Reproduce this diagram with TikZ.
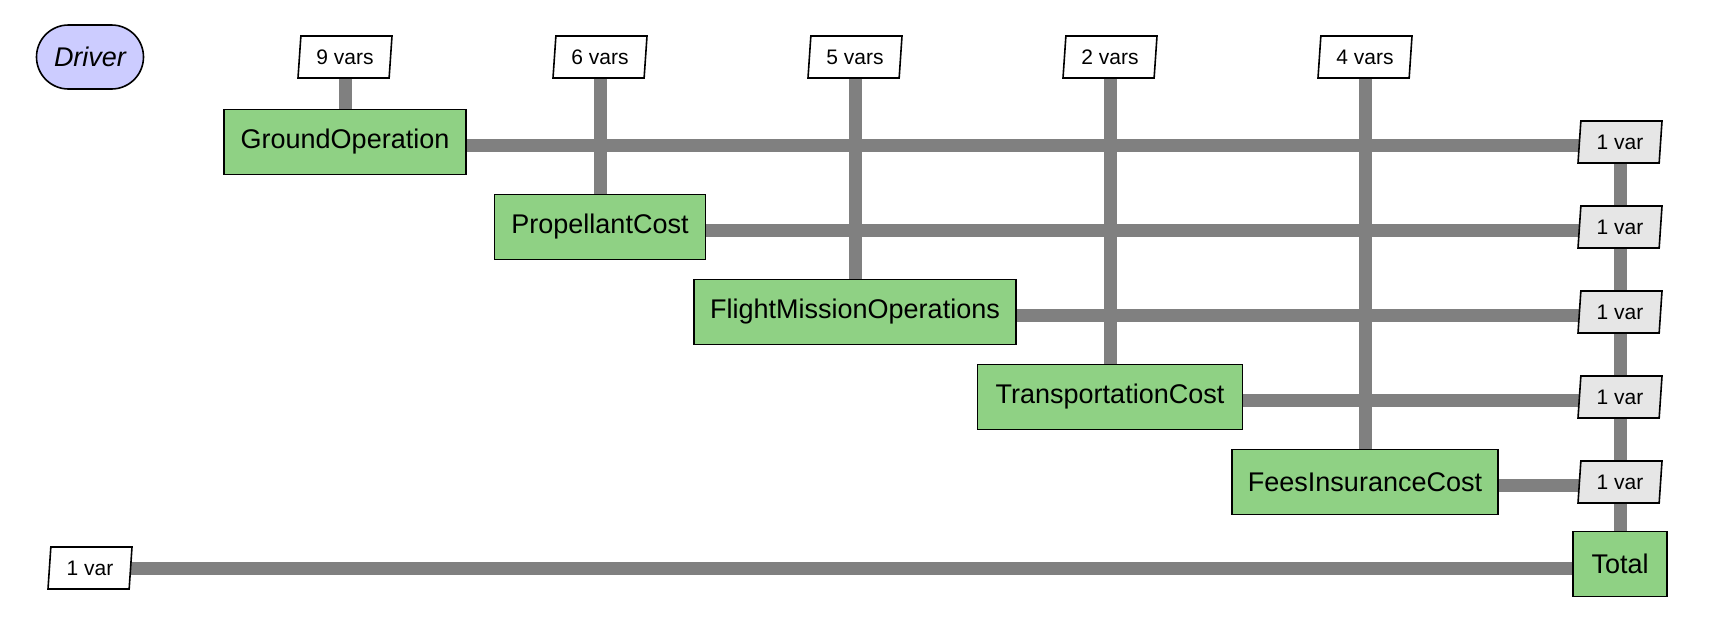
\documentclass[tikz,border=0pt]{standalone}
\usepackage{fontspec}
\setmainfont{Liberation Sans}
\usetikzlibrary{shapes.geometric,shapes.misc,backgrounds}
\definecolor{compgreen}{RGB}{143,209,132}
\definecolor{drvblue}{RGB}{204,204,255}
\definecolor{linegray}{RGB}{128,128,128}
\definecolor{outgray}{RGB}{230,230,230}
\begin{document}
\begin{tikzpicture}[x=1pt,y=-1pt,
  comp/.style={draw, line width=1.6pt, fill=compgreen, minimum height=65pt, inner sep=0pt, font=\fontsize{27}{32}\selectfont},
  driverbox/.style={rounded rectangle, draw, line width=1.6pt, fill=drvblue, minimum width=107pt, minimum height=64pt, inner sep=0pt, font=\fontsize{27}{32}\selectfont\itshape},
  datab/.style={trapezium, trapezium left angle=79, trapezium right angle=101, trapezium stretches body, draw, line width=1.6pt, fill=white, minimum width=94pt, minimum height=42pt, inner sep=0pt, font=\fontsize{21}{25}\selectfont},
  outd/.style={datab, fill=outgray, minimum width=84pt},
  flow/.style={draw=linegray, line width=13pt}]
\useasboundingbox (0,0) rectangle (1732,624);
% nodes
\node[driverbox] (drv) at (90,57) {Driver};
\node[datab] (i1) at (345,57) {9 vars};
\node[datab] (i2) at (600,57) {6 vars};
\node[datab] (i3) at (855,57) {5 vars};
\node[datab] (i4) at (1110,57) {2 vars};
\node[datab] (i5) at (1365,57) {4 vars};
\node[comp, minimum width=242pt] (c1) at (345,142) {GroundOperation};
\node[comp, minimum width=211pt] (c2) at (600,227) {PropellantCost};
\node[comp, minimum width=322pt] (c3) at (855,312) {FlightMissionOperations};
\node[comp, minimum width=265pt] (c4) at (1110,397) {TransportationCost};
\node[comp, minimum width=266pt] (c5) at (1365,482) {FeesInsuranceCost};
\node[comp, minimum width=94pt] (tot) at (1620,564) {Total};
\node[outd] (o1) at (1620,142) {1 var};
\node[outd] (o2) at (1620,227) {1 var};
\node[outd] (o3) at (1620,312) {1 var};
\node[outd] (o4) at (1620,397) {1 var};
\node[outd] (o5) at (1620,482) {1 var};
\node[datab, minimum width=84pt] (io) at (90,568) {1 var};
% connectors
\begin{scope}[on background layer]
\draw[flow] (i1.center) -- (c1.center);
\draw[flow] (i2.center) -- (c2.center);
\draw[flow] (i3.center) -- (c3.center);
\draw[flow] (i4.center) -- (c4.center);
\draw[flow] (i5.center) -- (c5.center);
\draw[flow] ([yshift=-3pt]c1.center) -- ([yshift=-3pt]o1.center);
\draw[flow] ([yshift=-3pt]c2.center) -- ([yshift=-3pt]o2.center);
\draw[flow] ([yshift=-3pt]c3.center) -- ([yshift=-3pt]o3.center);
\draw[flow] ([yshift=-3pt]c4.center) -- ([yshift=-3pt]o4.center);
\draw[flow] ([yshift=-3pt]c5.center) -- ([yshift=-3pt]o5.center);
\draw[flow] (o1.center) -- (tot.center);
\draw[flow] (io.center) -- (io.center -| tot.center);
\end{scope}
\end{tikzpicture}
\end{document}
